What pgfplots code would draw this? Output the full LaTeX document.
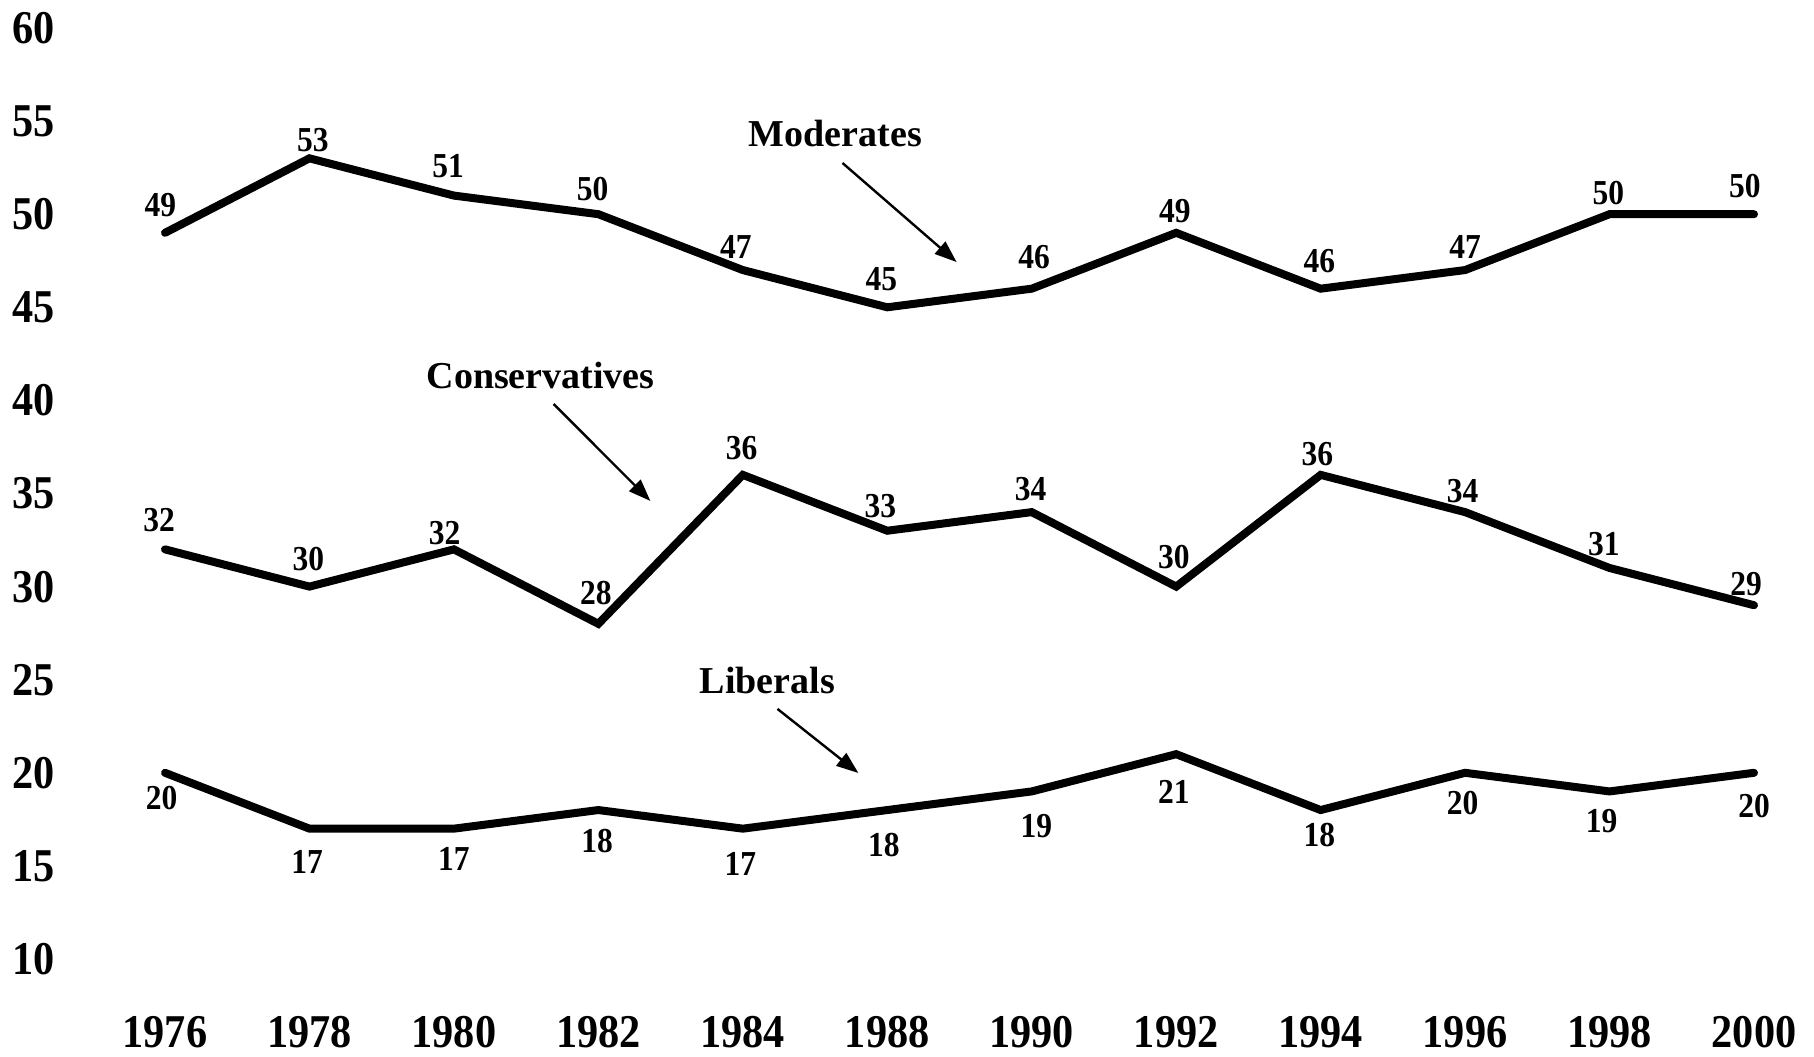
\documentclass[border=0pt]{standalone}
\usepackage{fontspec}
\setmainfont{Liberation Serif}
\newfontfamily\tnr[FakeStretch=0.9]{Liberation Serif}
\usepackage{pgfplots}
\pgfplotsset{compat=1.18}
\usepackage{pgfplotstable}
\usetikzlibrary{arrows.meta}

\pgfplotstableread{
x y dx dy
0 49 -2.3 13.9
1 53 1.7 9.3
2 51 -2.9 14.5
3 50 -2.9 12.7
4 47 -3.5 11.6
5 45 -2.9 13.9
6 46 1.2 15.6
7 49 -0.6 11.0
8 46 -0.6 13.9
9 47 0 11.6
10 50 -0.6 10.4
11 50 -4.6 13.9
}\moderates

\pgfplotstableread{
x y dx dy
0 32 -2.9 14.5
1 30 -0.6 13.9
2 32 -4.6 8.1
3 28 -1.2 15.6
4 36 -0.6 13.3
5 33 -3.5 12.1
6 34 -0.6 11.6
7 30 -1.2 15.0
8 36 -1.7 10.4
9 34 -1.2 10.4
10 31 -2.9 12.1
11 29 -4.0 10.4
}\conservatives

\pgfplotstableread{
x y dx dy
0 20 -1.7 -12.7
1 17 -1.2 -16.8
2 17 0 -15.0
3 18 -0.6 -15.6
4 17 -1.2 -17.4
5 18 -1.7 -17.4
6 19 2.3 -17.4
7 21 -1.2 -19.1
8 18 -0.6 -12.7
9 20 -1.2 -15.0
10 19 -4.0 -15.0
11 20 0 -16.8
}\liberals

\begin{document}
\begin{tikzpicture}
\path[use as bounding box] (-82.5pt,-48.5pt) rectangle (824.5pt,479.5pt);
\begin{axis}[
 at={(0,0)}, anchor=south west,
 scale only axis, width=794.5pt, height=465.5pt,
 xmin=0, xmax=11, ymin=10, ymax=60,
 axis line style={draw=none},
 major tick length=0pt,
 xtick={0,...,11},
 xticklabels={1976,1978,1980,1982,1984,1988,1990,1992,1994,1996,1998,2000},
 ytick={10,15,...,60},
 /pgf/number format/assume math mode=true,
 yticklabel style={font=\tnr\bfseries\fontsize{23.5}{24}\selectfont, anchor=east, inner sep=0pt, xshift=-55pt},
 xticklabel style={font=\tnr\bfseries\fontsize{23.5}{24}\selectfont, anchor=north, inner sep=0pt, yshift=-28.5pt},
 clip=false,
 cycle list={{black, line width=4pt, line cap=round, line join=miter, mark=none}},
 nodes near coords,
 visualization depends on={\thisrow{dx} \as \dx},
 visualization depends on={\thisrow{dy} \as \dy},
 every node near coord/.append style={font=\tnr\bfseries\fontsize{17.5}{17.5}\selectfont, black, anchor=center, inner sep=0pt, xshift=\dx pt, yshift=\dy pt},
]
\addplot[black, line width=4pt, line cap=round, line join=miter, mark=none] table[x=x,y=y] {\moderates};
\addplot[black, line width=4pt, line cap=round, line join=miter, mark=none] table[x=x,y=y] {\conservatives};
\addplot[black, line width=4pt, line cap=round, line join=miter, mark=none] table[x=x,y=y] {\liberals};

\node[font=\bfseries\fontsize{19}{19}\selectfont] at (axis cs:4.64,54.36) {Moderates};
\node[font=\bfseries\fontsize{19}{19}\selectfont] at (axis cs:2.60,41.36) {Conservatives};
\node[font=\bfseries\fontsize{19}{19}\selectfont] at (axis cs:4.17,24.98) {Liberals};
\draw[line width=1.2pt, -{Triangle[length=11pt,width=8pt]}] (axis cs:4.69,52.75) -- (axis cs:5.48,47.43);
\draw[line width=1.2pt, -{Triangle[length=11pt,width=8pt]}] (axis cs:2.69,39.81) -- (axis cs:3.36,34.60);
\draw[line width=1.2pt, -{Triangle[length=11pt,width=8pt]}] (axis cs:4.24,23.43) -- (axis cs:4.80,19.99);
\end{axis}
\end{tikzpicture}
\end{document}
